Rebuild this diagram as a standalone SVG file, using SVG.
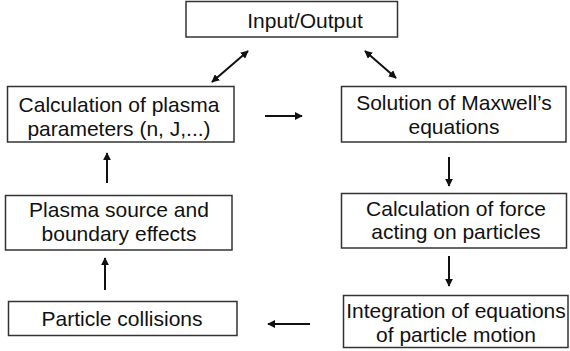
<svg xmlns="http://www.w3.org/2000/svg" width="570" height="351" viewBox="0 0 570 351">
<style>
.box{fill:#fff;stroke:#333;stroke-width:1.5}
.t{font-family:"Liberation Sans",Arial,sans-serif;font-size:21px;fill:#111;text-anchor:middle}
.c{stroke:#111;stroke-width:2;fill:none}
</style>
<defs>
<marker id="ah" viewBox="0 0 10 10" refX="9" refY="5" markerWidth="4" markerHeight="4" orient="auto-start-reverse" markerUnits="strokeWidth">
<path d="M0,0 L10,5 L0,10 Z" fill="#111"/>
</marker>
</defs>
<rect width="570" height="351" fill="#fff"/>
<g id="io"><rect class="box" x="186" y="1.5" width="211.5" height="35.5"/><text class="t" x="305" y="28">Input/Output</text></g>
<g id="calcplasma"><rect class="box" x="7.5" y="86.5" width="226.5" height="55.5"/><text class="t" x="119" y="112">Calculation of plasma</text><text class="t" x="119" y="136">parameters (n, J,...)</text></g>
<g id="maxwell"><rect class="box" x="341.5" y="86.5" width="224.5" height="55.5"/><text class="t" x="454" y="110">Solution of Maxwell’s</text><text class="t" x="454" y="134">equations</text></g>
<g id="force"><rect class="box" x="341.5" y="193.5" width="225" height="54.5"/><text class="t" x="456" y="216">Calculation of force</text><text class="t" x="456" y="239">acting on particles</text></g>
<g id="integration"><rect class="box" x="343.5" y="295.5" width="224.5" height="52"/><text class="t" x="456" y="318">Integration of equations</text><text class="t" x="456" y="342">of particle motion</text></g>
<g id="collisions"><rect class="box" x="8.5" y="301.5" width="228.5" height="34"/><text class="t" x="122" y="326">Particle collisions</text></g>
<g id="source"><rect class="box" x="5.5" y="195.5" width="226.5" height="54.5"/><text class="t" x="119" y="217">Plasma source and</text><text class="t" x="119" y="241">boundary effects</text></g>
<g id="connectors">
<line class="c" x1="212" y1="82" x2="248" y2="51" marker-start="url(#ah)" marker-end="url(#ah)"/>
<line class="c" x1="365" y1="51" x2="396" y2="78" marker-start="url(#ah)" marker-end="url(#ah)"/>
<line class="c" x1="265" y1="116" x2="302" y2="116" marker-end="url(#ah)"/>
<line class="c" x1="449" y1="157" x2="449" y2="186" marker-end="url(#ah)"/>
<line class="c" x1="449" y1="256" x2="449" y2="286" marker-end="url(#ah)"/>
<line class="c" x1="310" y1="324" x2="268" y2="324" marker-end="url(#ah)"/>
<line class="c" x1="105" y1="290" x2="105" y2="258" marker-end="url(#ah)"/>
<line class="c" x1="107" y1="183" x2="107" y2="153" marker-end="url(#ah)"/>
</g>
</svg>
